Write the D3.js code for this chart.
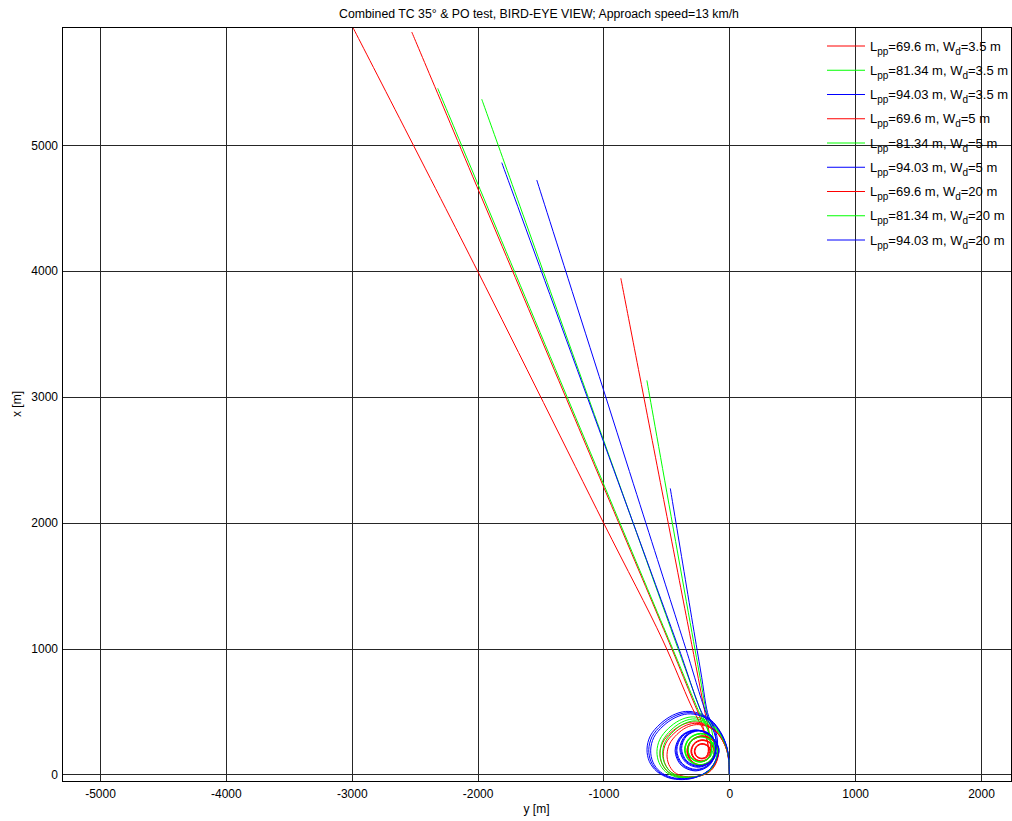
<!DOCTYPE html>
<html>
<head>
<meta charset="utf-8">
<script src="https://cdn.jsdelivr.net/npm/d3@7"></script>
<style>
  body { margin: 0; background: #fff; }
  svg text { font-family: "Liberation Sans", Arial, Helvetica, sans-serif; fill: #000; }
</style>
</head>
<body>
<svg id="chart" width="1012" height="821"></svg>
<script>
// ---- text ----
const titleText = "Combined TC 35\u00b0 & PO test, BIRD-EYE VIEW; Approach speed=13 km/h";
const horizontalLabel = "y [m]";
const verticalLabel = "x [m]";

// ---- ticks (metres) ----
const yTickValues = [-5000, -4000, -3000, -2000, -1000, 0, 1000, 2000];
const xTickValues = [0, 1000, 2000, 3000, 4000, 5000];

// ---- legend ----
const shipLengths = ["69.6", "81.34", "94.03", "69.6", "81.34", "94.03", "69.6", "81.34", "94.03"];
const waterDepths = ["3.5", "3.5", "3.5", "5", "5", "5", "20", "20", "20"];
const seriesColors = ["#ff0000", "#00ff00", "#0000ff", "#ff0000", "#00ff00", "#0000ff", "#ff0000", "#00ff00", "#0000ff"];

// ---- tracks: [y, x] in metres ----
const trackL696Wd35 = [[0,0],[-3,95],[-19,190],[-60,283],[-121,358],[-204,403],[-292,416],[-380,391],[-463,333],[-529,254],[-551,166],[-535,84],[-485,18],[-405,-20],[-315,-26],[-228,-10],[-155,30],[-105,100],[-90,180],
  [-125,273],[-218,307],[-305,267],[-337,180],[-299,99],[-218,69],[-142,104],[-115,180],
  [-148,250],[-218,275],[-282,244],[-305,180],[-277,121],[-218,101],[-165,127],[-146,180],
  [-170,228],[-218,245],[-262,224],[-278,180],[-259,139],[-218,123],[-178,136],
  [-156,178],[-150,235],[-155,300],[-168,375],[-185,450],[-259,829],[-862,3943]];
const trackL8134Wd35 = [[0,0],[-3,104],[-20,208],[-63,310],[-127,392],[-213,442],[-305,456],[-397,428],[-484,365],[-552,278],[-575,182],[-558,92],[-506,20],[-423,-21],[-329,-29],[-238,-12],[-162,33],[-110,110],[-95,193],
  [-133,289],[-229,326],[-321,285],[-356,193],[-317,105],[-229,72],[-146,110],[-114,193],
  [-150,272],[-229,302],[-304,268],[-332,193],[-300,122],[-229,96],[-163,127],
  [-135,172],[-126,240],[-132,310],[-148,380],[-172,450],[-243,829],[-655,3131]];
const trackL9403Wd35 = [[0,0],[-4,114],[-23,228],[-72,340],[-144,430],[-242,485],[-347,500],[-451,469],[-550,400],[-628,305],[-654,200],[-635,101],[-575,22],[-481,-28],[-374,-42],[-268,-25],[-175,22],[-110,100],[-82,200],
  [-151,305],[-268,353],[-384,304],[-431,188],[-383,73],[-268,27],[-155,75],[-109,188],
  [-140,307],[-246,350],[-351,306],[-393,201],[-349,98],[-246,56],[-144,99],
  [-104,160],[-93,235],[-100,310],[-124,385],[-164,460],[-229,829],[-469,2273]];
const trackL696Wd5 = [[0,0],[-3,92],[-18,185],[-57,275],[-115,348],[-194,392],[-278,405],[-362,381],[-441,324],[-504,247],[-525,162],[-510,82],[-462,17],[-386,-18],[-300,-22],[-218,-8],[-150,32],[-103,102],[-90,180],
  [-128,270],[-218,304],[-303,265],[-334,180],[-297,101],[-218,72],[-144,106],[-118,180],
  [-150,248],[-218,272],[-280,242],[-302,180],[-275,123],[-218,104],[-167,129],[-149,180],
  [-172,226],[-218,242],[-260,222],[-276,180],[-258,141],[-218,125],[-180,142],[-165,180],
  [-170,240],[-186,300],[-207,370],[-232,450],[-290,590],[-458,1000],[-879,2000],[-2523,5900]];
const trackL8134Wd5 = [[0,0],[-3,100],[-19,200],[-60,299],[-121,378],[-204,426],[-292,440],[-380,413],[-463,352],[-529,268],[-551,176],[-535,89],[-485,19],[-405,-18],[-315,-25],[-228,-10],[-155,35],[-108,112],[-95,193],
  [-135,287],[-229,323],[-319,283],[-353,193],[-315,107],[-229,75],[-148,112],[-117,193],
  [-152,270],[-229,299],[-302,266],[-329,193],[-298,124],[-229,99],[-165,129],[-141,193],
  [-145,255],[-160,320],[-182,390],[-207,450],[-408,1000],[-765,2000],[-1967,5366]];
const trackL9403Wd5 = [[0,0],[-4,112],[-22,223],[-70,333],[-141,421],[-237,475],[-339,490],[-441,460],[-538,392],[-614,299],[-640,196],[-621,99],[-563,21],[-471,-26],[-366,-38],[-264,-22],[-173,24],[-110,102],[-84,204],
  [-150,305],[-265,351],[-378,303],[-424,190],[-377,78],[-265,33],[-155,80],[-110,190],
  [-140,306],[-243,348],[-345,305],[-386,203],[-343,103],[-243,62],[-144,104],[-104,203],
  [-104,265],[-114,335],[-138,400],[-177,470],[-346,1000],[-664,2000],[-1530,4724]];
const trackL696Wd20 = [[0,0],[-3,90],[-17,181],[-54,269],[-109,340],[-183,383],[-262,395],[-342,372],[-416,317],[-475,241],[-495,158],[-481,80],[-436,16],[-364,-15],[-283,-18],[-206,-5],[-143,33],[-100,103],[-88,180],
  [-130,268],[-218,301],[-301,263],[-331,180],[-295,103],[-218,75],[-147,109],[-121,180],
  [-152,246],[-218,269],[-278,240],[-299,180],[-272,126],[-218,107],[-169,131],[-152,180],
  [-174,224],[-218,239],[-258,220],[-273,180],[-255,143],[-218,128],[-182,144],[-168,180],
  [-170,235],[-184,300],[-212,365],[-250,440],[-310,560],[-530,1068],[-1000,2000],[-2000,4000],[-2990,5935]];
const trackL8134Wd20 = [[0,0],[-3,97],[-18,194],[-58,289],[-117,365],[-196,411],[-281,425],[-366,399],[-445,340],[-509,259],[-530,170],[-514,86],[-466,19],[-390,-15],[-303,-21],[-220,-7],[-150,37],[-106,113],[-94,193],
  [-136,286],[-229,321],[-317,281],[-351,193],[-313,109],[-229,77],[-149,113],[-119,193],
  [-153,269],[-229,297],[-300,264],[-327,193],[-296,126],[-229,101],[-166,130],[-142,193],
  [-146,255],[-162,325],[-190,395],[-229,470],[-451,1000],[-2317,5453]];
const trackL9403Wd20 = [[0,0],[-4,110],[-22,219],[-69,326],[-138,412],[-232,466],[-332,480],[-431,450],[-526,384],[-600,293],[-625,192],[-607,97],[-550,21],[-460,-23],[-357,-34],[-259,-19],[-170,26],[-110,104],[-86,206],
  [-150,304],[-262,349],[-372,302],[-417,192],[-371,83],[-262,39],[-155,85],[-111,192],
  [-140,305],[-240,346],[-339,304],[-379,205],[-338,107],[-240,68],[-144,109],[-105,205],
  [-105,265],[-120,330],[-152,400],[-208,470],[-401,1000],[-765,2000],[-1808,4862]];

const tracks = [trackL696Wd35, trackL8134Wd35, trackL9403Wd35,
                trackL696Wd5, trackL8134Wd5, trackL9403Wd5,
                trackL696Wd20, trackL8134Wd20, trackL9403Wd20];

// ---- layout ----
const svg = d3.select("#chart");
const plot = { left: 62, top: 27, right: 1011, bottom: 781 };

// equal metres-per-pixel on both axes
const hScale = d3.scaleLinear().domain([-5302, 2238]).range([plot.left, plot.right]);
const vScale = d3.scaleLinear().domain([-53, 5940]).range([plot.bottom, plot.top]);

svg.append("rect").attr("width", 1012).attr("height", 821).attr("fill", "#fff");

svg.append("defs").append("clipPath").attr("id", "plotClip")
  .append("rect")
  .attr("x", plot.left).attr("y", plot.top)
  .attr("width", plot.right - plot.left).attr("height", plot.bottom - plot.top);

// grid + tick labels via d3 axes
const gridStroke = "#262626";
const plainNumber = d => String(d);
const xAxisG = svg.append("g")
  .attr("transform", `translate(0,${plot.bottom})`)
  .call(d3.axisBottom(hScale).tickValues(yTickValues).tickFormat(plainNumber)
        .tickSizeInner(-(plot.bottom - plot.top)).tickSizeOuter(0).tickPadding(8));
const yAxisG = svg.append("g")
  .attr("transform", `translate(${plot.left},0)`)
  .call(d3.axisLeft(vScale).tickValues(xTickValues).tickFormat(plainNumber)
        .tickSizeInner(-(plot.right - plot.left)).tickSizeOuter(0).tickPadding(4));
[xAxisG, yAxisG].forEach(g => {
  g.select(".domain").remove();
  g.selectAll(".tick line").attr("stroke", gridStroke).attr("stroke-width", 1)
    .attr("shape-rendering", "crispEdges");
  g.selectAll(".tick text").attr("font-size", 12).attr("fill", "#000")
    .attr("font-family", "'Liberation Sans', Arial, Helvetica, sans-serif");
});

// trajectories
const line = d3.line()
  .x(d => hScale(d[0]))
  .y(d => vScale(d[1]))
  .curve(d3.curveCatmullRom.alpha(0.5));

svg.append("g").attr("clip-path", "url(#plotClip)")
  .selectAll("path")
  .data(tracks)
  .join("path")
  .attr("d", d => line(d))
  .attr("fill", "none")
  .attr("stroke", (d, i) => seriesColors[i])
  .attr("stroke-width", 1);

// axes box
svg.append("rect")
  .attr("x", plot.left).attr("y", plot.top)
  .attr("width", plot.right - plot.left).attr("height", plot.bottom - plot.top)
  .attr("fill", "none").attr("stroke", "#000").attr("stroke-width", 1)
  .attr("shape-rendering", "crispEdges");

// title and axis labels
svg.append("text").attr("x", 539).attr("y", 18)
  .attr("text-anchor", "middle").attr("font-size", 12.3).text(titleText);
svg.append("text").attr("x", (plot.left + plot.right) / 2).attr("y", 813)
  .attr("text-anchor", "middle").attr("font-size", 12).text(horizontalLabel);
svg.append("text").attr("transform", `translate(21,${(plot.top + plot.bottom) / 2}) rotate(-90)`)
  .attr("text-anchor", "middle").attr("font-size", 12).text(verticalLabel);

// legend
const legend = svg.append("g");
shipLengths.forEach((len, i) => {
  const yRow = 46 + i * 24.25;
  legend.append("line")
    .attr("x1", 827).attr("x2", 865).attr("y1", yRow).attr("y2", yRow)
    .attr("stroke", seriesColors[i]).attr("stroke-width", 1);
  const t = legend.append("text").attr("x", 870).attr("y", yRow + 4.5).attr("font-size", 13);
  t.append("tspan").text("L");
  t.append("tspan").attr("dy", 4).attr("font-size", 10).text("pp");
  t.append("tspan").attr("dy", -4).text(`=${len} m, W`);
  t.append("tspan").attr("dy", 4).attr("font-size", 10).text("d");
  t.append("tspan").attr("dy", -4).text(`=${waterDepths[i]} m`);
});
</script>
</body>
</html>
